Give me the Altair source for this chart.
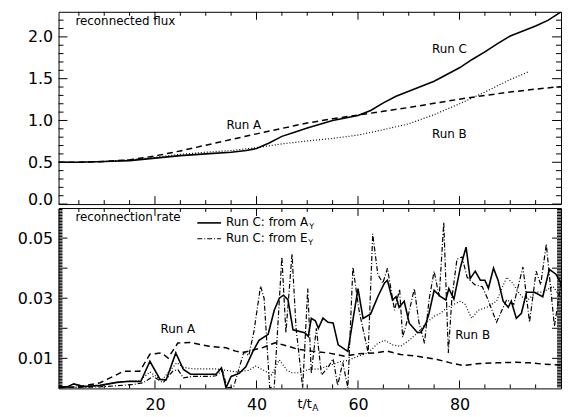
import altair as alt
import pandas as pd

FONT = "DejaVu Sans"
INK = "black"
W = 507
H_TOP = 194
H_BOT = 182

# ---------------- data: reconnected flux (top panel) ----------------
FLUX_A_T = [1, 5, 10, 15, 20, 25, 30, 35, 40, 45, 50, 55, 60, 65, 70, 75, 80, 85, 90, 95, 100]
FLUX_A = [0.50, 0.50, 0.51, 0.53, 0.575, 0.636, 0.704, 0.772, 0.84, 0.905, 0.97, 1.02, 1.065,
          1.11, 1.155, 1.205, 1.255, 1.30, 1.34, 1.375, 1.405]
FLUX_B_T = [1, 5, 10, 15, 20, 25, 30, 35, 40, 45, 50, 55, 60, 65, 70, 75, 80, 85, 90, 93.5]
FLUX_B = [0.50, 0.50, 0.51, 0.53, 0.56, 0.595, 0.62, 0.64, 0.675, 0.72, 0.755, 0.785, 0.825,
          0.89, 0.96, 1.07, 1.20, 1.34, 1.49, 1.58]
FLUX_C_T = [1, 5, 10, 15, 20, 25, 30, 35, 38, 40, 42.5, 45, 47.5, 50, 55, 60, 62.5, 65, 67.5,
            70, 72.5, 75, 77.5, 80, 82.5, 85, 87.5, 90, 92.5, 95, 97.5, 100]
FLUX_C = [0.50, 0.50, 0.51, 0.52, 0.55, 0.58, 0.60, 0.62, 0.64, 0.665, 0.73, 0.81, 0.86, 0.91,
          1.00, 1.06, 1.12, 1.21, 1.29, 1.35, 1.41, 1.47, 1.55, 1.63, 1.73, 1.82, 1.92, 2.01,
          2.07, 2.13, 2.20, 2.30]

# ---------------- data: reconnection rate (bottom panel), (t, rate) ----------------
RATE_C_AY = [(1, 0.0005), (2.7, 0.0005), (4, 0.0015), (5.9, 0.0006), (9.2, 0.001), (12.5, 0.002),
             (15.1, 0.0024), (17.2, 0.0023), (19, 0.009), (21, 0.003), (22.2, 0.0028), (24.1, 0.0118),
             (25.6, 0.0063), (27, 0.0047), (32, 0.0047), (33.1, 0.0068), (34, 0.0002), (35, 0.004),
             (36.6, 0.005), (37.9, 0.0072), (39.2, 0.012), (40.5, 0.016), (42.3, 0.018), (43.5, 0.026),
             (44.5, 0.030), (45.3, 0.031), (46.2, 0.0295), (47.2, 0.0195), (49.5, 0.0185), (50.2, 0.0173),
             (50.8, 0.0233), (51.6, 0.0225), (52.2, 0.020), (53.1, 0.0234), (54.1, 0.022), (55.1, 0.0218),
             (56.1, 0.0145), (58, 0.0123), (60, 0.0332), (61, 0.0233), (62.5, 0.0248), (63.9, 0.0305),
             (65.2, 0.035), (65.8, 0.036), (66.8, 0.0294), (67.5, 0.0305), (68.1, 0.027), (69.1, 0.029),
             (70.1, 0.0217), (71.7, 0.0186), (72.4, 0.0186), (73.4, 0.0217), (74, 0.025), (75, 0.0326),
             (76.3, 0.0305), (77.3, 0.0294), (77.9, 0.0332), (78.9, 0.0297), (80.2, 0.0404), (81.3, 0.047),
             (82.1, 0.0365), (83.1, 0.039), (84.1, 0.036), (85, 0.036), (85.7, 0.0333), (86.7, 0.040),
             (87.6, 0.036), (88.6, 0.029), (89.6, 0.027), (90.2, 0.029), (91.2, 0.0233), (92.2, 0.025),
             (93.2, 0.032), (94.8, 0.032), (96.4, 0.0305), (97.7, 0.0396), (99, 0.038), (100, 0.035)]
RATE_A = [(1, 0.0002), (4.9, 0.0005), (9.2, 0.0019), (12.5, 0.0046), (13.8, 0.0057), (17, 0.0057),
          (19, 0.0114), (21.3, 0.0118), (22.6, 0.0101), (24.5, 0.0151), (26.8, 0.0153), (30.7, 0.014),
          (34, 0.0135), (35.9, 0.0124), (37.2, 0.0119), (38.5, 0.0124), (41.1, 0.0135), (43.7, 0.0152),
          (46.3, 0.014), (48.2, 0.013), (50.9, 0.0124), (54.1, 0.0118), (57.4, 0.0107), (60, 0.0115),
          (63.2, 0.0118), (65.8, 0.0124), (68.4, 0.0113), (71.7, 0.0107), (75.6, 0.0096), (78.2, 0.0085),
          (80.8, 0.0076), (83.4, 0.0082), (87.3, 0.0085), (91.2, 0.0087), (93.8, 0.0085), (96.4, 0.0081),
          (100, 0.0077)]
RATE_B = [(1, 0.0002), (5, 0.0005), (9.2, 0.001), (13, 0.0022), (17, 0.0026), (19, 0.0055),
          (21.3, 0.0027), (24.3, 0.0085), (25.6, 0.007), (27.5, 0.0065), (32.1, 0.0065), (34, 0.006),
          (35.9, 0.0055), (38.5, 0.006), (39.8, 0.0074), (41.8, 0.0057), (43, 0.0045), (44.5, 0.0095),
          (46, 0.006), (47, 0.0052), (48.5, 0.0052), (50.2, 0.0063), (52.2, 0.0065), (54.1, 0.0074),
          (56.7, 0.009), (58, 0.0093), (60, 0.0107), (62, 0.0118), (63.9, 0.015), (65.2, 0.016),
          (66.8, 0.0145), (68.4, 0.014), (70.1, 0.016), (71.7, 0.0185), (73.4, 0.0217), (75, 0.024),
          (76.3, 0.025), (77.6, 0.027), (78.9, 0.028), (80.2, 0.029), (81.1, 0.028), (82.4, 0.0233),
          (83.7, 0.026), (85.4, 0.027), (87.3, 0.029), (89.3, 0.037), (90.5, 0.035), (91.8, 0.0315),
          (93.2, 0.029), (95.1, 0.032), (96.4, 0.032), (98.4, 0.034), (100, 0.030)]
RATE_C_EY = [(1, 0.0002), (2.7, 0.0003), (9.2, 0.0005), (15.7, 0.0013), (17.7, 0.0019), (19.6, 0.004),
             (21.6, 0.0019), (23.5, 0.0057), (24.5, 0.0063), (25.6, 0.0035), (27.5, 0.004), (30.7, 0.004),
             (32, 0.0042), (33.3, 0.006), (34.2, 0.0002), (35.5, 0.0005), (37.5, 0.012), (38.5, 0.011),
             (39.5, 0.019), (40.8, 0.034), (41.5, 0.030), (42.6, 0.0002), (43.5, 0.0005), (45, 0.0437),
             (45.8, 0.0185), (47, 0.0447), (47.8, 0.02), (49.1, 0.0002), (50.1, 0.0332), (50.8, 0.005),
             (51.8, 0.02), (52.8, 0.0045), (53.9, 0.0065), (55.1, 0.0098), (56, 0.001), (57, 0.0087),
             (58, 0.0002), (59, 0.0404), (60.2, 0.026), (62, 0.0118), (62.9, 0.0514), (63.9, 0.038),
             (64.9, 0.035), (65.8, 0.040), (67.2, 0.026), (68.2, 0.033), (68.8, 0.017), (69.6, 0.022),
             (71.1, 0.0332), (72, 0.022), (73.1, 0.015), (74, 0.0295), (75, 0.039), (76, 0.0305),
             (76.9, 0.0552), (77.8, 0.0118), (78.5, 0.030), (79.5, 0.043), (80.5, 0.0437), (81.5, 0.037),
             (83, 0.0345), (84.5, 0.0338), (85.5, 0.030), (87.3, 0.022), (89.3, 0.0295), (90.7, 0.028),
             (92.5, 0.0404), (93.8, 0.022), (95.1, 0.039), (96, 0.0345), (97.1, 0.048), (98.7, 0.0207),
             (100, 0.035)]

# ---------------- labels and ticks ----------------
TOP_RUN_LABELS = [("Run A", 37.5, 0.95), ("Run C", 78, 1.86), ("Run B", 78, 0.84)]
BOT_RUN_LABELS = [("Run A", 24.5, 0.0198), ("Run B", 82.6, 0.0178)]
TOP_TITLE = "reconnected flux"
BOT_TITLE = "reconnection rate"
LEGEND_TEXT = ["Run C: from A", "Run C: from E"]
LEGEND_SUB = "Y"
X_TITLE = "t/t"
X_TITLE_SUB = "A"

X_DOMAIN = [1, 100]
X_MAJOR = [20, 40, 60, 80]
X_MINOR = [5, 10, 15, 25, 30, 35, 45, 50, 55, 65, 70, 75, 85, 90, 95]
TOP_Y_DOMAIN = [0, 2.3]
TOP_Y_MAJOR = [0.0, 0.5, 1.0, 1.5, 2.0]
TOP_Y_MINOR = [round(0.1 * i, 1) for i in range(1, 23) if i % 5]
BOT_Y_DOMAIN = [0, 0.06]
BOT_Y_LABELS = [0.01, 0.03, 0.05]
BOT_Y_MAJOR = [0.01, 0.02, 0.03, 0.04, 0.05]
BOT_Y_MINOR = [round(0.0005 * i, 4) for i in range(1, 120) if i % 20]

xs = alt.Scale(domain=X_DOMAIN, nice=False, zero=False)
ys_top = alt.Scale(domain=TOP_Y_DOMAIN, nice=False, zero=False)
ys_bot = alt.Scale(domain=BOT_Y_DOMAIN, nice=False, zero=False)

common_axis = dict(ticks=False, domain=False, grid=False, title=None, labelFont=FONT,
                   labelFontSize=16, labelColor=INK)
yaxis_top = alt.Axis(values=TOP_Y_MAJOR, format=".1f", labelPadding=6, labelFlush=True,
                     labelFlushOffset=3, minExtent=50, maxExtent=50, **common_axis)
yaxis_bot = alt.Axis(values=BOT_Y_LABELS, format=".2f", labelPadding=6, labelFlush=False,
                     minExtent=50, maxExtent=50, **common_axis)
xaxis_bot = alt.Axis(values=X_MAJOR, format="d", labelPadding=8, labelFlush=False, **common_axis)


def line(t, v, yscale, yaxis, xaxis, width, dash=None):
    df = pd.DataFrame({"t": t, "v": v})
    kw = dict(color=INK, strokeWidth=width, clip=True)
    if dash:
        kw["strokeDash"] = dash
    return alt.Chart(df).mark_line(**kw).encode(
        x=alt.X("t:Q", scale=xs, axis=xaxis),
        y=alt.Y("v:Q", scale=yscale, axis=yaxis))


def yticks(vals, length, side, yscale, yaxis):
    df = pd.DataFrame({"v": vals})
    x0, x1 = (0, length) if side == "left" else (W - length, W)
    return alt.Chart(df).mark_rule(color=INK, strokeWidth=1).encode(
        y=alt.Y("v:Q", scale=yscale, axis=yaxis), x=alt.value(x0), x2=alt.value(x1))


def xticks(vals, length, side, h, xaxis):
    df = pd.DataFrame({"t": vals})
    y0, y1 = (h - length, h) if side == "bottom" else (0, length)
    return alt.Chart(df).mark_rule(color=INK, strokeWidth=1).encode(
        x=alt.X("t:Q", scale=xs, axis=xaxis), y=alt.value(y0), y2=alt.value(y1))


def ptext(s, x, y, size=12, align="left", baseline="alphabetic"):
    df = pd.DataFrame({"s": [s]})
    return alt.Chart(df).mark_text(font=FONT, fontSize=size, color=INK, align=align,
                                   baseline=baseline).encode(
        text="s:N", x=alt.value(x), y=alt.value(y))


def run_labels(rows, yscale, yaxis, xaxis):
    df = pd.DataFrame(rows, columns=["label", "t", "v"])
    return alt.Chart(df).mark_text(font=FONT, fontSize=12, color=INK, align="center",
                                   baseline="middle").encode(
        text="label:N",
        x=alt.X("t:Q", scale=xs, axis=xaxis),
        y=alt.Y("v:Q", scale=yscale, axis=yaxis))


def frame_ticks(h, yscale, yaxis, xaxis, ymaj, ymin, ymaj_len, ymin_len):
    out = []
    for side in ("left", "right"):
        out.append(yticks(ymaj, ymaj_len, side, yscale, yaxis))
        out.append(yticks(ymin, ymin_len, side, yscale, yaxis))
    for side in ("bottom", "top"):
        out.append(xticks(X_MAJOR, 8, side, h, xaxis))
        out.append(xticks(X_MINOR, 4, side, h, xaxis))
    return out


# ---------------- top panel ----------------
top_layers = [
    line(FLUX_C_T, FLUX_C, ys_top, yaxis_top, None, 1.6),
    line(FLUX_A_T, FLUX_A, ys_top, yaxis_top, None, 1.5, [6, 4]),
    line(FLUX_B_T, FLUX_B, ys_top, yaxis_top, None, 1.2, [1, 2]),
    run_labels(TOP_RUN_LABELS, ys_top, yaxis_top, None),
    ptext(TOP_TITLE, 17, 13),
] + frame_ticks(H_TOP, ys_top, yaxis_top, None, TOP_Y_MAJOR, TOP_Y_MINOR, 9, 5)

top = alt.layer(*top_layers).properties(width=W, height=H_TOP)

# ---------------- bottom panel ----------------
bot_layers = [
    line([p[0] for p in RATE_A], [p[1] for p in RATE_A], ys_bot, yaxis_bot, xaxis_bot, 1.5, [6, 4]),
    line([p[0] for p in RATE_B], [p[1] for p in RATE_B], ys_bot, yaxis_bot, xaxis_bot, 1.2, [1, 2]),
    line([p[0] for p in RATE_C_EY], [p[1] for p in RATE_C_EY], ys_bot, yaxis_bot, xaxis_bot, 1.2,
         [5, 2, 1, 2]),
    line([p[0] for p in RATE_C_AY], [p[1] for p in RATE_C_AY], ys_bot, yaxis_bot, xaxis_bot, 1.6),
    run_labels(BOT_RUN_LABELS, ys_bot, yaxis_bot, xaxis_bot),
    ptext(BOT_TITLE, 17, 13),
    # legend
    alt.Chart(pd.DataFrame({"k": [0]})).mark_rule(color=INK, strokeWidth=1.6).encode(
        x=alt.value(140), x2=alt.value(164), y=alt.value(15)),
    alt.Chart(pd.DataFrame({"k": [0]})).mark_rule(color=INK, strokeWidth=1.2,
                                                  strokeDash=[5, 2, 1, 2]).encode(
        x=alt.value(140), x2=alt.value(164), y=alt.value(31)),
    ptext(LEGEND_TEXT[0], 169, 18),
    ptext(LEGEND_SUB, 253, 21, size=8),
    ptext(LEGEND_TEXT[1], 169, 34),
    ptext(LEGEND_SUB, 252, 37, size=8),
    # x-axis title
    ptext(X_TITLE, 241, 202, size=13),
    ptext(X_TITLE_SUB, 256, 205, size=9),
] + frame_ticks(H_BOT, ys_bot, yaxis_bot, xaxis_bot, BOT_Y_MAJOR, BOT_Y_MINOR, 9, 4)

bottom = alt.layer(*bot_layers).properties(width=W, height=H_BOT)

chart = alt.vconcat(top, bottom, spacing=4, bounds="flush").properties(
    padding={"left": 0, "top": 1, "right": 0, "bottom": 0},
    background="white",
).configure_view(stroke=INK, strokeWidth=1)

chart.save("out.html", embed_options={"renderer": "svg", "actions": False})
